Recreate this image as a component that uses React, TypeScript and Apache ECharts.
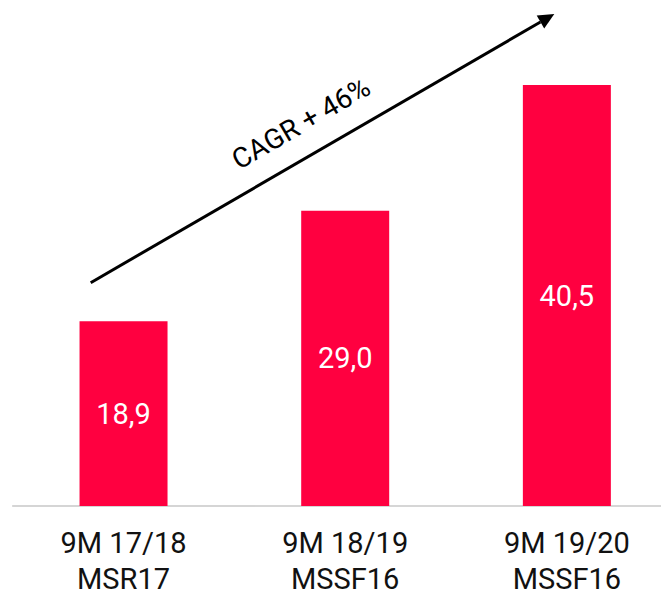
import React, { useEffect, useRef } from "react";
import * as echarts from "echarts";

const periods = ["9M 17/18", "9M 18/19", "9M 19/20"];
const standards = ["MSR17", "MSSF16", "MSSF16"];
const values = [18.9, 29.0, 40.5];
const cagrLabel = "CAGR + 46%";

const FONT = "Roboto, 'Noto Sans', sans-serif";
const BAR = "#ff0040";

export default function App() {
  const ref = useRef<HTMLDivElement>(null);
  useEffect(() => {
    if (!ref.current) return;
    const chart = echarts.init(ref.current, null, { renderer: "svg" });
    const categories = periods.map((p, i) => p + "\n" + standards[i]);

    // arrow geometry (annotation)
    const x0 = 90.7, y0 = 282.7, x1 = 554.3, y1 = 14;
    const dx = x1 - x0, dy = y1 - y0;
    const len = Math.sqrt(dx * dx + dy * dy);
    const ux = dx / len, uy = dy / len;
    const headL = 16, headW = 7.5;
    const bx = x1 - headL * ux, by = y1 - headL * uy;
    const px = -uy, py = ux;

    chart.setOption({
      animation: false,
      grid: { left: 12.7, top: 35.9, width: 665, height: 475.8, containLabel: false },
      xAxis: {
        type: "category",
        data: categories,
        axisLine: { show: true, lineStyle: { color: "#c8c8c8", width: 1.5 } },
        axisTick: { show: false },
        axisLabel: {
          fontSize: 29,
          lineHeight: 36,
          margin: 19,
          color: "#111",
          fontFamily: FONT,
        },
      },
      yAxis: {
        type: "value",
        min: 2,
        max: 45,
        show: false,
        splitLine: { show: false },
      },
      series: [
        {
          type: "bar",
          data: values,
          barWidth: 88,
          itemStyle: { color: BAR },
          label: {
            show: true,
            position: "inside",
            color: "#fff",
            fontSize: 29,
            fontFamily: FONT,
            formatter: (p: any) => Number(p.value).toFixed(1).replace(".", ","),
          },
        },
      ],
      graphic: [
        {
          type: "line",
          shape: { x1: x0, y1: y0, x2: bx, y2: by },
          style: { stroke: "#000", lineWidth: 3 },
        },
        {
          type: "polygon",
          shape: {
            points: [
              [x1, y1],
              [bx + px * headW, by + py * headW],
              [bx - px * headW, by - py * headW],
            ],
          },
          style: { fill: "#000" },
        },
        {
          type: "text",
          x: 301,
          y: 123.3,
          rotation: Math.atan2(-dy, dx),
          style: {
            text: cagrLabel,
            fontSize: 28,
            fontFamily: FONT,
            fill: "#000",
            align: "center",
            verticalAlign: "middle",
          },
        },
      ],
    });
    return () => chart.dispose();
  }, []);
  return (
    <div
      style={{
        position: "fixed",
        left: 0,
        top: 0,
        width: 661,
        height: 597,
        overflow: "hidden",
        background: "#fff",
      }}
    >
      <div ref={ref} style={{ width: 700, height: 597 }} />
    </div>
  );
}
